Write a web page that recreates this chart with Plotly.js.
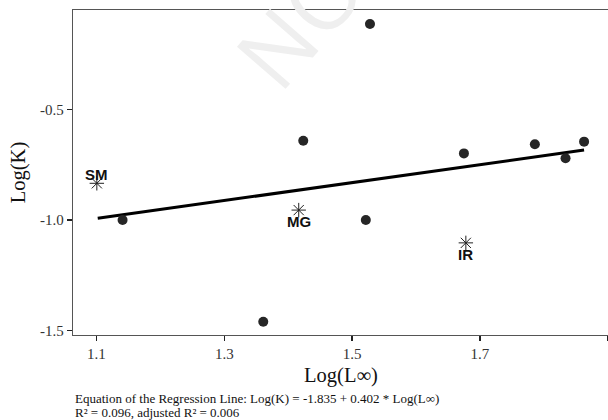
<!DOCTYPE html>
<html>
<head>
<meta charset="utf-8">
<script src="https://cdn.plot.ly/plotly-3.0.1.min.js"></script>
<style>
html,body{margin:0;padding:0;overflow:hidden;background:#fff;}
#chart{width:615px;height:420px;}
</style>
</head>
<body>
<div id="chart"></div>
<script>
// Species points (circles)
var pointX = [1.528, 1.4236, 1.1409, 1.5215, 1.361, 1.675, 1.786, 1.834, 1.863];
var pointY = [-0.115, -0.642, -1.0, -1.0, -1.459, -0.699, -0.658, -0.721, -0.646];

// Labelled species (asterisks)
var starLabels = ["SM", "MG", "IR"];
var starX = [1.1006, 1.4165, 1.678];
var starY = [-0.834, -0.955, -1.103];

// Regression line as drawn
var lineX = [1.102, 1.863];
var lineY = [-0.992, -0.684];

var xTicks = [1.1, 1.3, 1.5, 1.7, 1.9];
var yTicks = [-1.5, -1.0, -0.5];
var yTickText = ["-1.5", "-1.0", "-0.5"];

var eqLine1 = "Equation of the Regression Line: Log(K) = -1.835 + 0.402 * Log(L\u221E)";
var eqLine2 = "R\u00B2 = 0.096, adjusted R\u00B2 = 0.006";

var serif = "Liberation Serif, Times New Roman, serif";
var sans = "Liberation Sans, Arial, sans-serif";

var traces = [
  {x: lineX, y: lineY, type: "scatter", mode: "lines",
   line: {color: "#000", width: 3}, hoverinfo: "skip"},
  {x: pointX, y: pointY, type: "scatter", mode: "markers",
   marker: {symbol: "circle", size: 10, color: "#262626"}},
  {x: starX, y: starY, type: "scatter", mode: "markers",
   marker: {symbol: "asterisk-open", size: 12, color: "#222", line: {color: "#222", width: 1}}}
];

var labelShift = [9, -11, -12];
var annotations = starLabels.map(function(t, i){
  return {x: starX[i], y: starY[i], xref: "x", yref: "y", text: "<b>" + t + "</b>",
    showarrow: false, xanchor: "center", yanchor: "middle", yshift: labelShift[i],
    font: {family: sans, size: 15, color: "#111"}};
});
annotations.push({x: 0.245, y: 0.674, xref: "paper", yref: "paper", text: "NOT PEER-REVIEWED",
  showarrow: false, textangle: -49, xanchor: "left", yanchor: "bottom",
  font: {family: "Open Sans, Liberation Sans, sans-serif", size: 90, color: "#efefef"}});
annotations.push({x: 74, y: 398, xref: "paper", yref: "paper", text: eqLine1});
annotations.push({x: 74, y: 412, xref: "paper", yref: "paper", text: eqLine2});

// convert pixel-based caption positions
var L = 73, T = 10, W = 536, H = 325;
annotations.forEach(function(a){
  if (a.text === eqLine1 || a.text === eqLine2) {
    a.x = (a.x - L) / W;
    a.y = (T + H - a.y) / H;
    a.showarrow = false; a.xanchor = "left"; a.yanchor = "middle";
    a.borderpad = 0;
    a.font = {family: serif, size: 13, color: "#111"};
  }
});

var layout = {
  width: 615, height: 420,
  margin: {l: L, r: 615 - L - W, t: T, b: 420 - T - H},
  paper_bgcolor: "#fff", plot_bgcolor: "#fff",
  showlegend: false,
  xaxis: {range: [1.0633, 1.902], tickvals: xTicks, ticktext: xTicks.map(function(v){return v.toFixed(1);}),
    showgrid: false, zeroline: false, showline: true, mirror: true, linecolor: "#555", linewidth: 1.3,
    ticks: "outside", ticklen: 5, tickwidth: 1.3, tickcolor: "#222",
    tickfont: {family: serif, size: 15, color: "#333"},
    title: {text: "Log(L\u221E)", font: {family: serif, size: 20.5, color: "#111"}, standoff: 6}},
  yaxis: {range: [-1.519, -0.0515], tickvals: yTicks, ticktext: yTickText,
    showgrid: false, zeroline: false, showline: true, mirror: true, linecolor: "#555", linewidth: 1.3,
    ticks: "outside", ticklen: 5, tickwidth: 1.3, tickcolor: "#222",
    tickfont: {family: serif, size: 15, color: "#333"},
    title: {text: "Log(K)", font: {family: serif, size: 20.5, color: "#111"}, standoff: 8}},
  annotations: annotations
};

Plotly.newPlot("chart", traces, layout, {displayModeBar: false, staticPlot: true});
</script>
</body>
</html>
